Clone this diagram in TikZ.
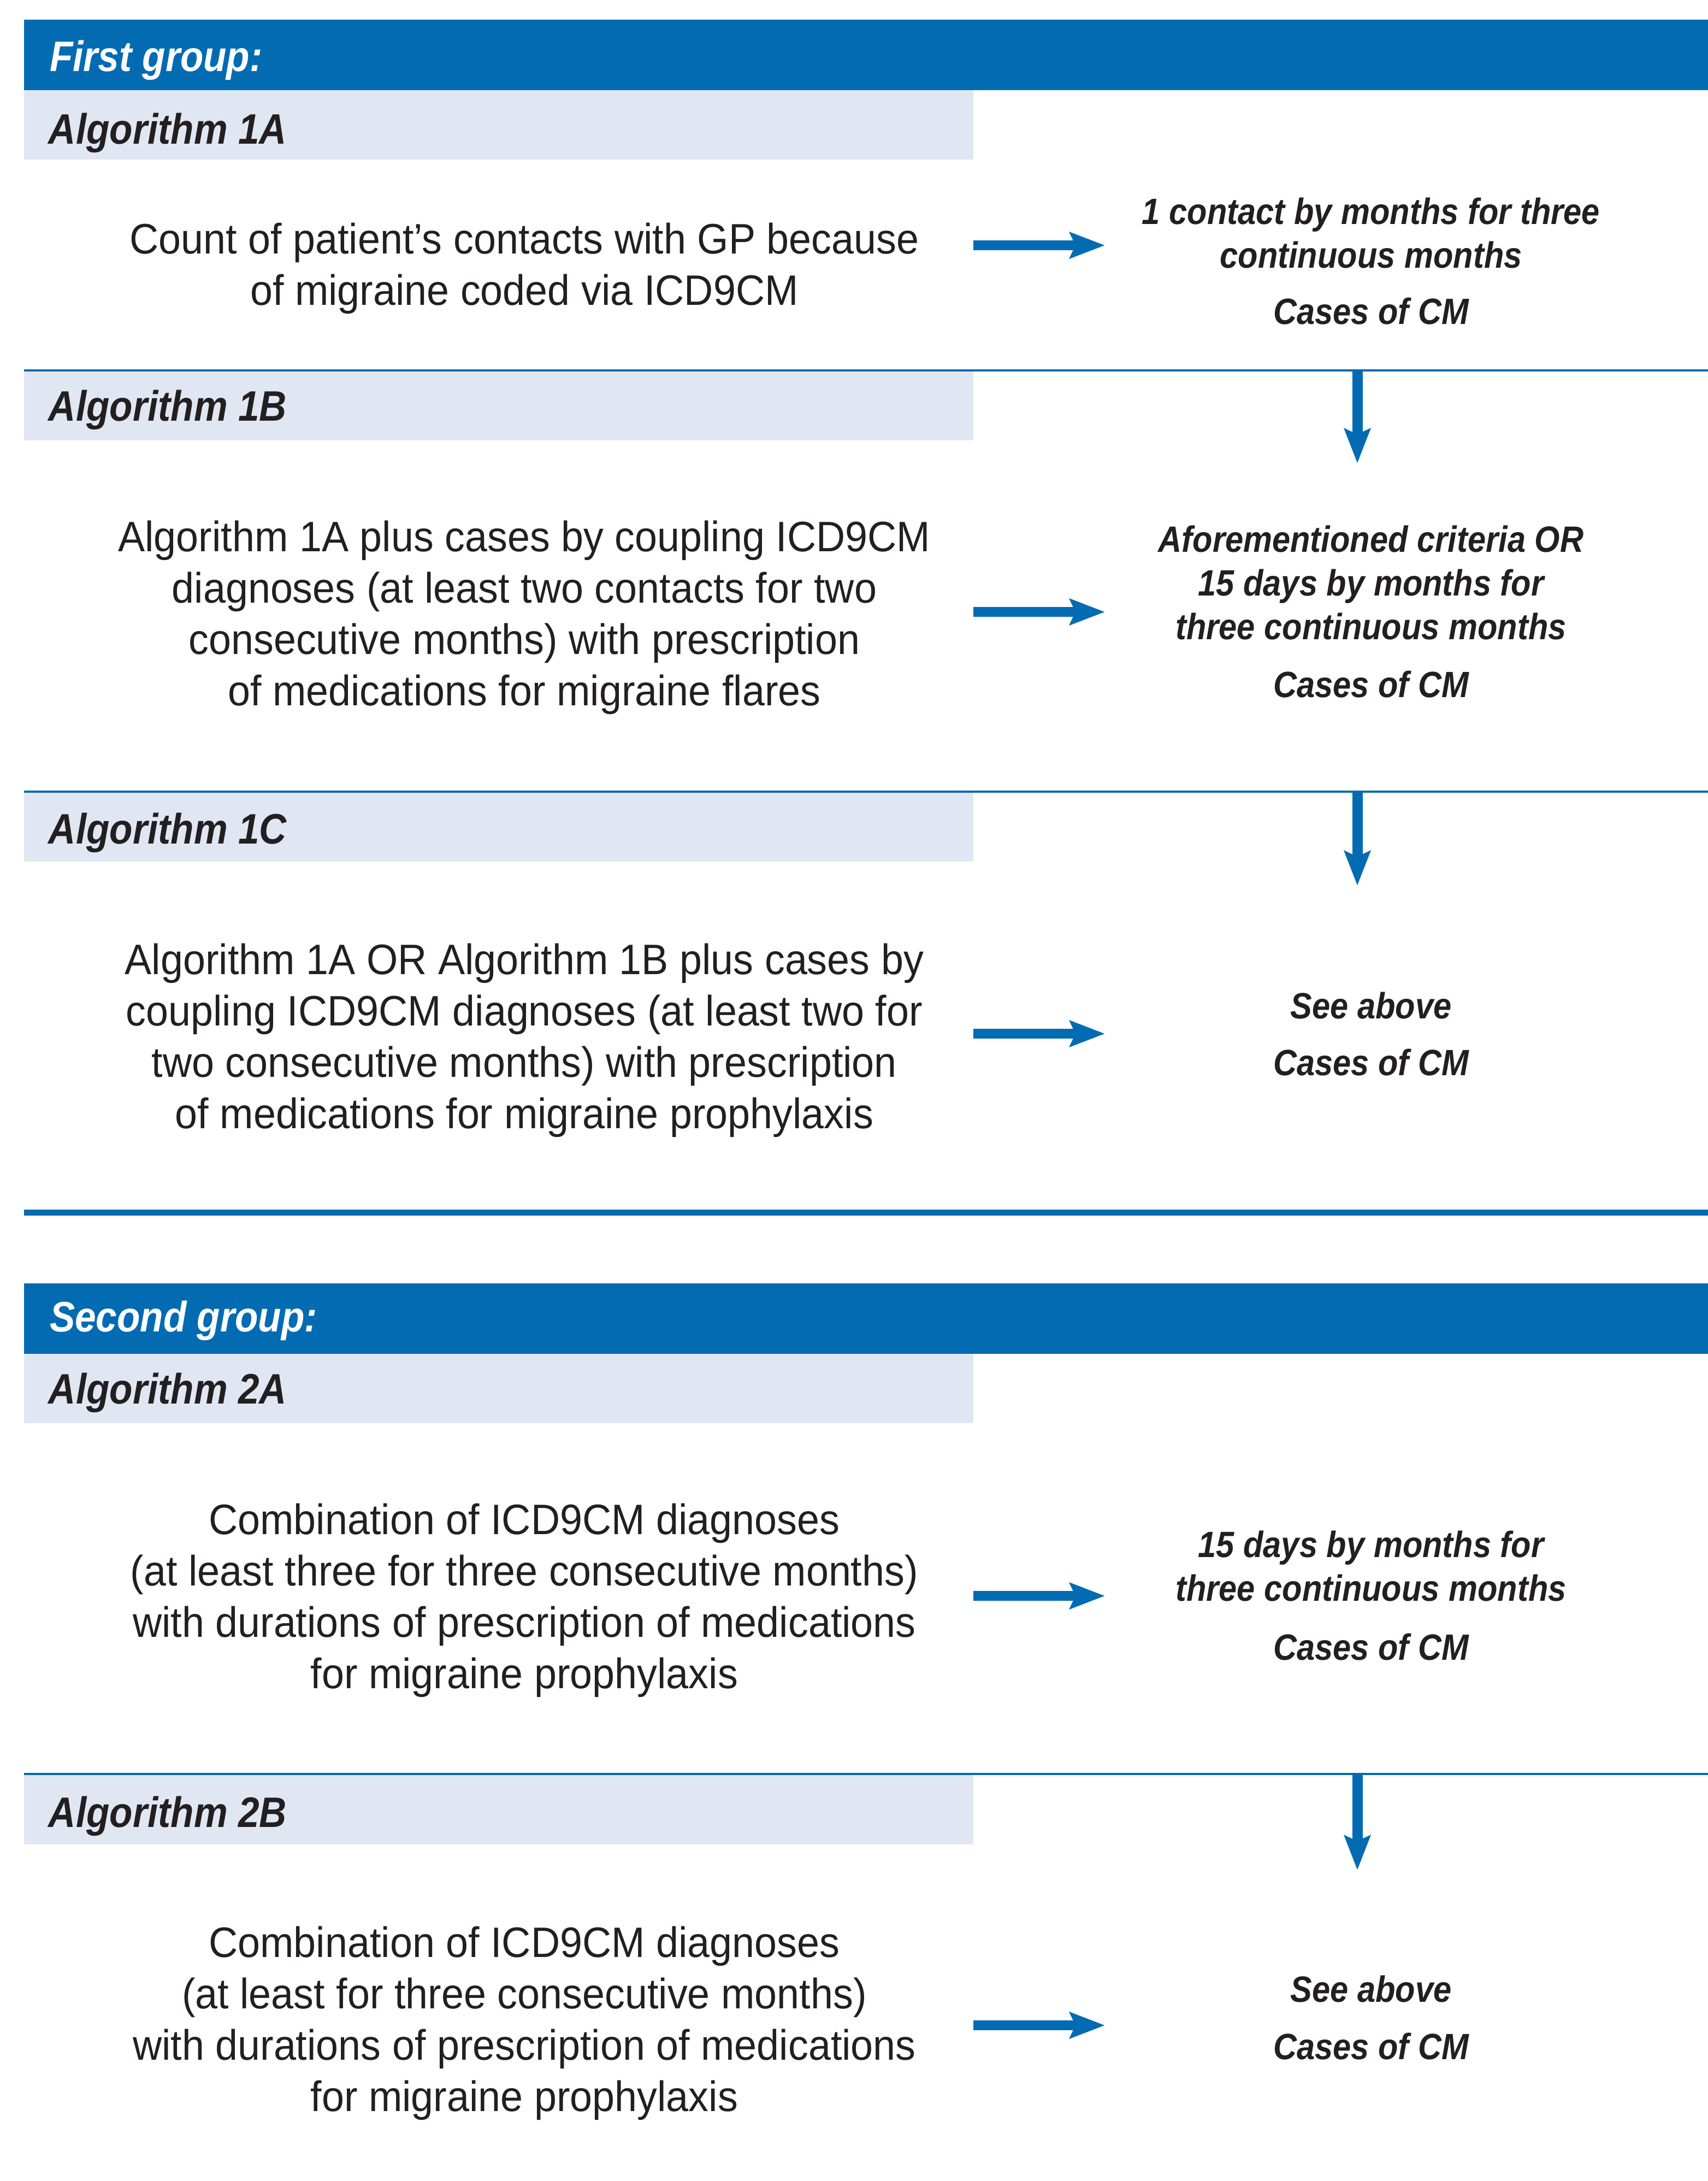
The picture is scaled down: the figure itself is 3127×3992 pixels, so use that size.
\documentclass[tikz,border=0pt]{standalone}
\usepackage{fontspec}
\setmainfont{Liberation Sans}
\newfontfamily\bodyfont[FakeStretch=0.945]{Liberation Sans}
\newfontfamily\emfont[FakeStretch=0.89]{Liberation Sans}
\usetikzlibrary{arrows.meta}
\definecolor{hblue}{HTML}{036BB2}
\definecolor{lgray}{HTML}{E1E7F2}
\definecolor{ink}{HTML}{231F20}
\begin{document}
\begin{tikzpicture}[x=0.2pt,y=-0.2pt,
  hdr/.style={fill=hblue},
  algbox/.style={fill=lgray},
  grouptitle/.style={anchor=base west, inner sep=0pt, text=white, font=\emfont\bfseries\itshape\fontsize{15.6}{18}\selectfont},
  algtitle/.style={anchor=base west, inner sep=0pt, text=ink, font=\emfont\bfseries\itshape\fontsize{15.6}{18}\selectfont},
  body/.style={align=center, inner sep=0pt, text=ink, font=\bodyfont\fontsize{15.6}{18.8}\selectfont},
  crit/.style={align=center, inner sep=0pt, text=ink, font=\emfont\bfseries\itshape\fontsize{13.4}{16}\selectfont},
  rarrow/.style={draw=hblue, line width=3.6pt, -{Stealth[length=12.8pt,width=9.4pt,inset=2pt]}},
  darrow/.style={draw=hblue, line width=3.8pt, -{Stealth[length=12.6pt,width=9.4pt,inset=2pt]}},
  sepline/.style={draw=hblue, line width=0.9pt},
  thicksep/.style={draw=hblue, line width=2.2pt}]
\useasboundingbox (0,0) rectangle (3127,3992);

% ---------- First group ----------
\fill[hdr] (44,36) rectangle (3127,165);
\node[grouptitle] (g1) at (90,130) {First group:};

% Algorithm 1A
\fill[algbox] (44,165) rectangle (1782,292);
\node[algtitle] (t1a) at (88,263) {Algorithm 1A};
\node[body] (l1a) at (960,491) {Count of patient’s contacts with GP because\\of migraine coded via ICD9CM};
\node[crit] (c1a) at (2510,427) {1 contact by months for three\\continuous months};
\node[crit] (r1a) at (2510,570) {Cases of CM};
\coordinate (a1s) at (1782,449);
\coordinate (a1e) at (2023,449);
\draw[rarrow] (a1s) -- (a1e);

% Algorithm 1B
\coordinate (s1l) at (44,678);
\coordinate (s1r) at (3127,678);
\fill[algbox] (44,678) rectangle (1782,806);
\draw[sepline] (s1l) -- (s1r);
\node[algtitle] (t1b) at (88,770) {Algorithm 1B};
\coordinate (d1s) at (2485,678);
\coordinate (d1e) at (2485,848);
\draw[darrow] (d1s) -- (d1e);
\node[body] (l1b) at (960,1130) {Algorithm 1A plus cases by coupling ICD9CM\\diagnoses (at least two contacts for two\\consecutive months) with prescription\\of medications for migraine flares};
\node[crit] (c1b) at (2510,1067) {Aforementioned criteria OR\\15 days by months for\\three continuous months};
\node[crit] (r1b) at (2510,1253) {Cases of CM};
\coordinate (a2s) at (1782,1120);
\coordinate (a2e) at (2023,1120);
\draw[rarrow] (a2s) -- (a2e);

% Algorithm 1C
\coordinate (s2l) at (44,1449);
\coordinate (s2r) at (3127,1449);
\fill[algbox] (44,1449) rectangle (1782,1577);
\draw[sepline] (s2l) -- (s2r);
\node[algtitle] (t1c) at (88,1544) {Algorithm 1C};
\coordinate (d2s) at (2485,1449);
\coordinate (d2e) at (2485,1621);
\draw[darrow] (d2s) -- (d2e);
\node[body] (l1c) at (960,1904) {Algorithm 1A OR Algorithm 1B plus cases by\\coupling ICD9CM diagnoses (at least two for\\two consecutive months) with prescription\\of medications for migraine prophylaxis};
\node[crit] (c1c) at (2510,1841) {See above};
\node[crit] (r1c) at (2510,1945) {Cases of CM};
\coordinate (a3s) at (1782,1892);
\coordinate (a3e) at (2023,1892);
\draw[rarrow] (a3s) -- (a3e);

% separator between groups
\coordinate (s3l) at (44,2219.5);
\coordinate (s3r) at (3127,2219.5);
\draw[thicksep] (s3l) -- (s3r);

% ---------- Second group ----------
\fill[hdr] (44,2349) rectangle (3127,2478);
\node[grouptitle] (g2) at (90,2437) {Second group:};

% Algorithm 2A
\fill[algbox] (44,2478) rectangle (1782,2605);
\node[algtitle] (t2a) at (88,2569) {Algorithm 2A};
\node[body] (l2a) at (960,2929) {Combination of ICD9CM diagnoses\\(at least three for three consecutive months)\\with durations of prescription of medications\\for migraine prophylaxis};
\node[crit] (c2a) at (2510,2867) {15 days by months for\\three continuous months};
\node[crit] (r2a) at (2510,3015) {Cases of CM};
\coordinate (a4s) at (1782,2921);
\coordinate (a4e) at (2023,2921);
\draw[rarrow] (a4s) -- (a4e);

% Algorithm 2B
\coordinate (s4l) at (44,3247);
\coordinate (s4r) at (3127,3247);
\fill[algbox] (44,3247) rectangle (1782,3376);
\draw[sepline] (s4l) -- (s4r);
\node[algtitle] (t2b) at (88,3344) {Algorithm 2B};
\coordinate (d3s) at (2485,3247);
\coordinate (d3e) at (2485,3423);
\draw[darrow] (d3s) -- (d3e);
\node[body] (l2b) at (960,3703) {Combination of ICD9CM diagnoses\\(at least for three consecutive months)\\with durations of prescription of medications\\for migraine prophylaxis};
\node[crit] (c2b) at (2510,3641) {See above};
\node[crit] (r2b) at (2510,3746) {Cases of CM};
\coordinate (a5s) at (1782,3707);
\coordinate (a5e) at (2023,3707);
\draw[rarrow] (a5s) -- (a5e);
\end{tikzpicture}
\end{document}
